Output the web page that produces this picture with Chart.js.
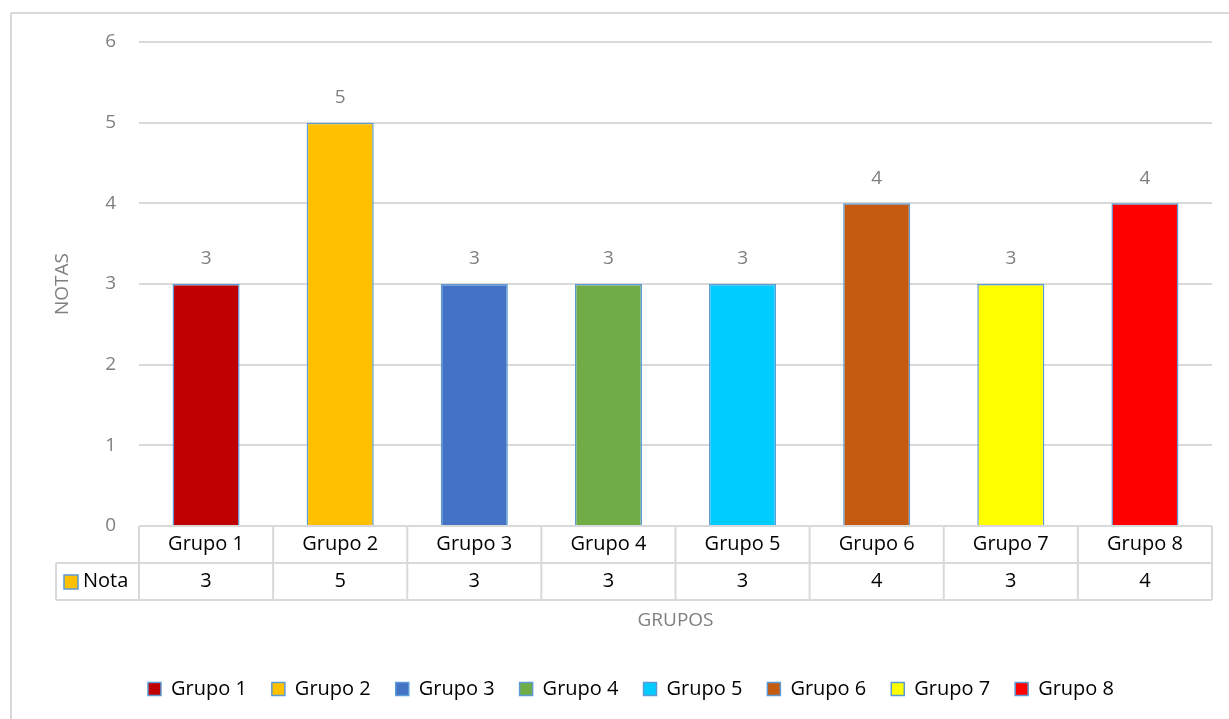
<!DOCTYPE html>
<html>
<head>
<meta charset="utf-8">
<script src="https://cdn.jsdelivr.net/npm/chart.js@4/dist/chart.umd.min.js"></script>
<style>
  html, body { margin: 0; padding: 0; background: #ffffff; }
  #wrap { width: 1229px; height: 719px; }
</style>
</head>
<body>
<div id="wrap"><canvas id="c" width="1229" height="719"></canvas></div>
<script>
// Grades per group
const categories = ['Grupo 1', 'Grupo 2', 'Grupo 3', 'Grupo 4', 'Grupo 5', 'Grupo 6', 'Grupo 7', 'Grupo 8'];
const notas = [3, 5, 3, 3, 3, 4, 3, 4];
const seriesName = 'Nota';
const barColors = ['#c00000', '#ffc000', '#4472c4', '#70ad47', '#00ccff', '#c55a11', '#ffff00', '#ff0000'];
const yTickMin = 0;
const yTickMax = 6;
const yTickStep = 1;
const yTitle = 'NOTAS';
const xTitle = 'GRUPOS';

const FONT = '"Open Sans", Lato, sans-serif';
const GRID = '#d9d9d9';
const EDGE = '#5b9bd5';

// White background and the chart frame (top and left edges)
const framePlugin = {
  id: 'frame',
  beforeDraw(chart) {
    const ctx = chart.ctx;
    ctx.save();
    ctx.fillStyle = '#ffffff';
    ctx.fillRect(0, 0, chart.width, chart.height);
    ctx.strokeStyle = GRID;
    ctx.lineWidth = 2;
    ctx.beginPath();
    ctx.moveTo(11, 13); ctx.lineTo(chart.width, 13);
    ctx.moveTo(11, 13); ctx.lineTo(11, chart.height);
    ctx.stroke();
    ctx.restore();
  }
};

// Centre the legend row under the whole frame rather than the padded box
const legendShift = {
  id: 'legendShift',
  afterLayout(chart) {
    if (chart.legend) {
      chart.legend.left += 25;
      chart.legend.right += 25;
    }
  }
};

// Value labels above each bar
const valueLabels = {
  id: 'valueLabels',
  afterDatasetsDraw(chart) {
    const ctx = chart.ctx;
    const meta = chart.getDatasetMeta(0);
    ctx.save();
    ctx.fillStyle = '#7f7f7f';
    ctx.font = '19px ' + FONT;
    ctx.textAlign = 'center';
    ctx.textBaseline = 'middle';
    meta.data.forEach((bar, i) => {
      ctx.fillText(String(notas[i]), bar.x, bar.y - 25);
    });
    ctx.restore();
  }
};

// Data table under the plot: category header row, value row, axis title
const dataTable = {
  id: 'dataTable',
  afterDraw(chart) {
    const ctx = chart.ctx;
    const xs = chart.scales.x;
    const area = chart.chartArea;
    const top = area.bottom;
    const rowH = 37;
    const mid = top + rowH;
    const bottom = mid + rowH;
    const labelLeft = 56;
    const half = (xs.getPixelForValue(1) - xs.getPixelForValue(0)) / 2;

    ctx.save();
    ctx.strokeStyle = GRID;
    ctx.lineWidth = 2;
    ctx.beginPath();
    // horizontal rules
    ctx.moveTo(area.left, top); ctx.lineTo(area.right, top);
    ctx.moveTo(labelLeft, mid); ctx.lineTo(area.right, mid);
    ctx.moveTo(labelLeft, bottom); ctx.lineTo(area.right, bottom);
    // vertical rules
    ctx.moveTo(labelLeft, mid); ctx.lineTo(labelLeft, bottom);
    categories.forEach((c, i) => {
      const x = xs.getPixelForValue(i) - half;
      ctx.moveTo(x, top); ctx.lineTo(x, bottom);
    });
    const xr = xs.getPixelForValue(categories.length - 1) + half;
    ctx.moveTo(xr, top); ctx.lineTo(xr, bottom);
    ctx.stroke();

    ctx.font = '20px ' + FONT;
    ctx.fillStyle = '#000000';
    ctx.textAlign = 'center';
    ctx.textBaseline = 'middle';
    categories.forEach((c, i) => {
      const x = xs.getPixelForValue(i);
      ctx.fillText(c, x, top + rowH / 2);
      ctx.fillText(String(notas[i]), x, mid + rowH / 2);
    });

    // series key + name
    ctx.fillStyle = barColors[1];
    ctx.fillRect(64, mid + 12, 14, 14);
    ctx.strokeStyle = EDGE;
    ctx.lineWidth = 1.5;
    ctx.strokeRect(64, mid + 12, 14, 14);
    ctx.fillStyle = '#000000';
    ctx.textAlign = 'left';
    ctx.fillText(seriesName, 83, mid + rowH / 2);

    // axis title
    ctx.fillStyle = '#7f7f7f';
    ctx.font = '19px ' + FONT;
    ctx.textAlign = 'center';
    ctx.fillText(xTitle, (area.left + area.right) / 2, 621);
    ctx.restore();
  }
};

new Chart(document.getElementById('c'), {
  type: 'bar',
  data: {
    labels: categories,
    datasets: [{
      label: seriesName,
      data: notas,
      backgroundColor: barColors,
      borderColor: EDGE,
      borderWidth: 1.5,
      categoryPercentage: 1,
      barPercentage: 0.5
    }]
  },
  options: {
    responsive: false,
    devicePixelRatio: 1,
    animation: false,
    events: [],
    layout: { padding: { left: 0, right: 17, top: 42, bottom: 10 } },
    plugins: {
      tooltip: { enabled: false },
      legend: {
        position: 'bottom',
        labels: {
          color: '#000000',
          font: { family: FONT, size: 20 },
          boxWidth: 13,
          boxHeight: 13,
          padding: 25,
          generateLabels() {
            return categories.map((c, i) => ({
              text: c,
              fillStyle: barColors[i],
              strokeStyle: EDGE,
              lineWidth: 1.5,
              hidden: false,
              index: i
            }));
          }
        }
      }
    },
    scales: {
      x: {
        type: 'category',
        grid: { display: false },
        border: { display: false },
        ticks: { display: false },
        afterFit(scale) { scale.height = 128; }
      },
      y: {
        min: yTickMin,
        max: yTickMax,
        ticks: {
          stepSize: yTickStep,
          padding: 23,
          color: '#7f7f7f',
          font: { family: FONT, size: 19 }
        },
        grid: { color: GRID, lineWidth: 2, drawTicks: false },
        border: { display: false },
        title: {
          display: true,
          text: yTitle,
          color: '#7f7f7f',
          font: { family: FONT, size: 19 },
          padding: { top: 51, bottom: 0 }
        },
        afterFit(scale) { scale.width = 139; }
      }
    }
  },
  plugins: [framePlugin, legendShift, valueLabels, dataTable]
});
</script>
</body>
</html>
